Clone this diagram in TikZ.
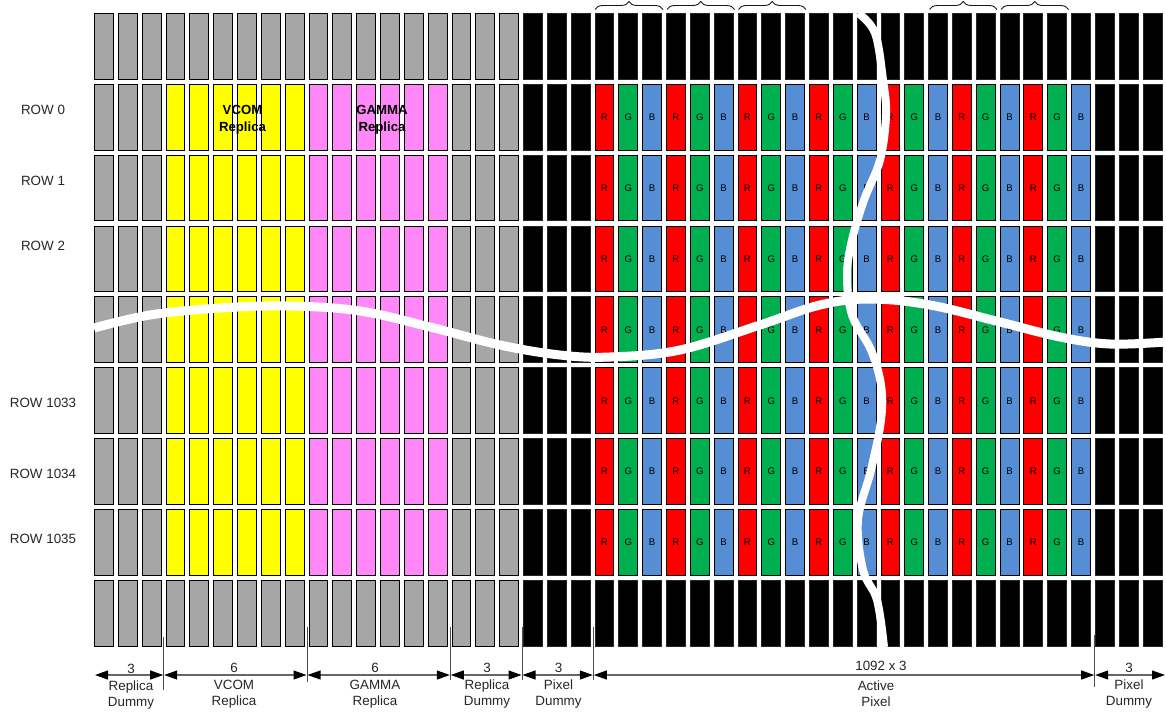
\documentclass[tikz,border=0pt]{standalone}
\usepackage{fontspec}
\setmainfont{Liberation Sans}
\usetikzlibrary{arrows.meta,decorations.pathreplacing}
\definecolor{cgray}{HTML}{A6A6A6}
\definecolor{cyellow}{HTML}{FFFF00}
\definecolor{cpink}{HTML}{FF87F8}
\definecolor{cred}{HTML}{FF0000}
\definecolor{cgreen}{HTML}{00B050}
\definecolor{cblue}{HTML}{558ED5}
\tikzset{
  cell/.style={draw=black,line width=0.9pt,minimum width=18.9pt,minimum height=65.8pt,inner sep=0pt,outer sep=0pt,text=black,font=\fontsize{9.6}{10}\selectfont},
  kgray/.style={cell,fill=cgray}, kyellow/.style={cell,fill=cyellow}, kpink/.style={cell,fill=cpink},
  kblack/.style={cell,fill=black,draw=black!85}, kred/.style={cell,fill=cred}, kgreen/.style={cell,fill=cgreen}, kblue/.style={cell,fill=cblue},
  rowlabel/.style={font=\fontsize{13.4}{15}\selectfont,text=black!85,inner sep=0pt,text height=9.4pt,text depth=0pt},
  boldlabel/.style={font=\bfseries\fontsize{13.2}{15}\selectfont,inner sep=0pt,text height=9.4pt,text depth=0pt},
  dimtext/.style={font=\fontsize{13.4}{16}\selectfont,text=black!85,inner sep=0pt,align=center,text height=9.4pt,text depth=0pt},
  tick/.style={draw=black!70,line width=0.9pt},
  dimline/.style={draw=black!60,line width=1.1pt,{Triangle[length=13pt,width=9pt,color=black]}-{Triangle[length=13pt,width=9pt,color=black]},shorten >=0.5pt,shorten <=0.5pt},
  gapv/.style={draw=white,line width=8pt},
  gaph/.style={draw=white,line width=9pt},
  bracecurve/.style={draw=black!90,line width=0.9pt,decorate,decoration={brace,amplitude=8pt}}
}
\begin{document}
\begin{tikzpicture}[x=1pt,y=-1pt]
\useasboundingbox (0,0) rectangle (1166,713);
\foreach \r in {0,...,8}{
  \foreach \c in {0,...,44}{
    \pgfmathsetmacro{\cx}{104+23.83*\c}
    \pgfmathsetmacro{\cy}{46.2+70.9*\r}
    \pgfmathtruncatemacro{\m}{mod(\c,3)}
    \def\k{kblack}\def\t{}
    \ifnum\c<18 \def\k{kgray}\fi
    \ifnum\r>0 \ifnum\r<8
      \ifnum\c>2 \ifnum\c<9 \def\k{kyellow}\fi\fi
      \ifnum\c>8 \ifnum\c<15 \def\k{kpink}\fi\fi
      \ifnum\c>20 \ifnum\c<42
        \ifcase\m \def\k{kred}\def\t{R}\or \def\k{kgreen}\def\t{G}\or \def\k{kblue}\def\t{B}\fi
      \fi\fi
    \fi\fi
    \node[\k] (c-\r-\c) at (\cx,\cy) {\t};
  }
}
% labels
\node[rowlabel] (r0) at (43,110) {ROW 0};
\node[rowlabel] (r1) at (43,181) {ROW 1};
\node[rowlabel] (r2) at (43,246) {ROW 2};
\node[rowlabel] (r3) at (43,403) {ROW 1033};
\node[rowlabel] (r4) at (43,474) {ROW 1034};
\node[rowlabel] (r5) at (43,539) {ROW 1035};
\node[boldlabel] (vc) at (242.5,110) {VCOM};
\node[boldlabel] (vr) at (242.5,126.5) {Replica};
\node[boldlabel] (gc) at (382,110) {GAMMA};
\node[boldlabel] (gr) at (382,126.5) {Replica};
% white breaks
\draw[gapv] plot[smooth,tension=0.6] coordinates {(858,13)(875,33)(883,80)(886,115)(880,160)(864,200)(852,240)(847,275)(852,315)(871,350)(881,385)(881,420)(871,470)(858,520)(863,570)(877,600)(884,647)};
\draw[gaph] plot[smooth,tension=0.6] coordinates {(94,328)(150,315)(220,308)(290,306)(360,311)(430,327)(500,345)(560,355)(610,357)(680,350)(760,325)(820,305)(870,299)(930,305)(1000,322)(1060,337)(1110,344)(1166,342)};
% braces
\foreach \a/\b/\n in {595/663/a,667/734.5/b,738.5/806/c,929.5/997/d,1001/1068.5/e}{
  \coordinate (bl\n) at (\a,9.5);
  \coordinate (br\n) at (\b,9.5);
  \draw[bracecurve] (bl\n) -- (br\n);
}
% dimension ticks
\coordinate (d0) at (94.5,675);
\coordinate (d1) at (163.7,675);
\coordinate (d2) at (307,675);
\coordinate (d3) at (450.3,675);
\coordinate (d4) at (522,675);
\coordinate (d5) at (593.3,675);
\coordinate (d6) at (1094.7,675);
\coordinate (d7) at (1165.5,675);
\foreach \n/\x/\ya/\yb in {a/163.7/637/690,b/307/627/682,c/450.3/627/680,d/522/627/680,e/593.3/627/680,f/1094.7/635/687}{
  \coordinate (t\n a) at (\x,\ya);
  \coordinate (t\n b) at (\x,\yb);
  \draw[tick] (t\n a) -- (t\n b);
}
\draw[dimline] (d0) -- (d1);
\draw[dimline] (d1) -- (d2);
\draw[dimline] (d2) -- (d3);
\draw[dimline] (d3) -- (d4);
\draw[dimline] (d4) -- (d5);
\draw[dimline] (d5) -- (d6);
\draw[dimline] (d6) -- (d7);
% dimension text
\node[dimtext] (n0) at (131,669) {3};
\node[dimtext] (n1) at (234,668) {6};
\node[dimtext] (n2) at (375,668) {6};
\node[dimtext] (n3) at (487,668) {3};
\node[dimtext] (n4) at (558.5,668) {3};
\node[dimtext] (n5) at (881,666) {1092 x 3};
\node[dimtext] (n6) at (1129,668) {3};
\node[dimtext] (l0) at (131,685.7) {Replica};
\node[dimtext] (m0) at (131,701.7) {Dummy};
\node[dimtext] (l1) at (234,684.5) {VCOM};
\node[dimtext] (m1) at (234,700.5) {Replica};
\node[dimtext] (l2) at (375,684.5) {GAMMA};
\node[dimtext] (m2) at (375,700.5) {Replica};
\node[dimtext] (l3) at (487,684.5) {Replica};
\node[dimtext] (m3) at (487,700.5) {Dummy};
\node[dimtext] (l4) at (558.5,684.5) {Pixel};
\node[dimtext] (m4) at (558.5,700.5) {Dummy};
\node[dimtext] (l5) at (876,685.7) {Active};
\node[dimtext] (m5) at (876,701.7) {Pixel};
\node[dimtext] (l6) at (1129,684.5) {Pixel};
\node[dimtext] (m6) at (1129,700.5) {Dummy};
\end{tikzpicture}
\end{document}
